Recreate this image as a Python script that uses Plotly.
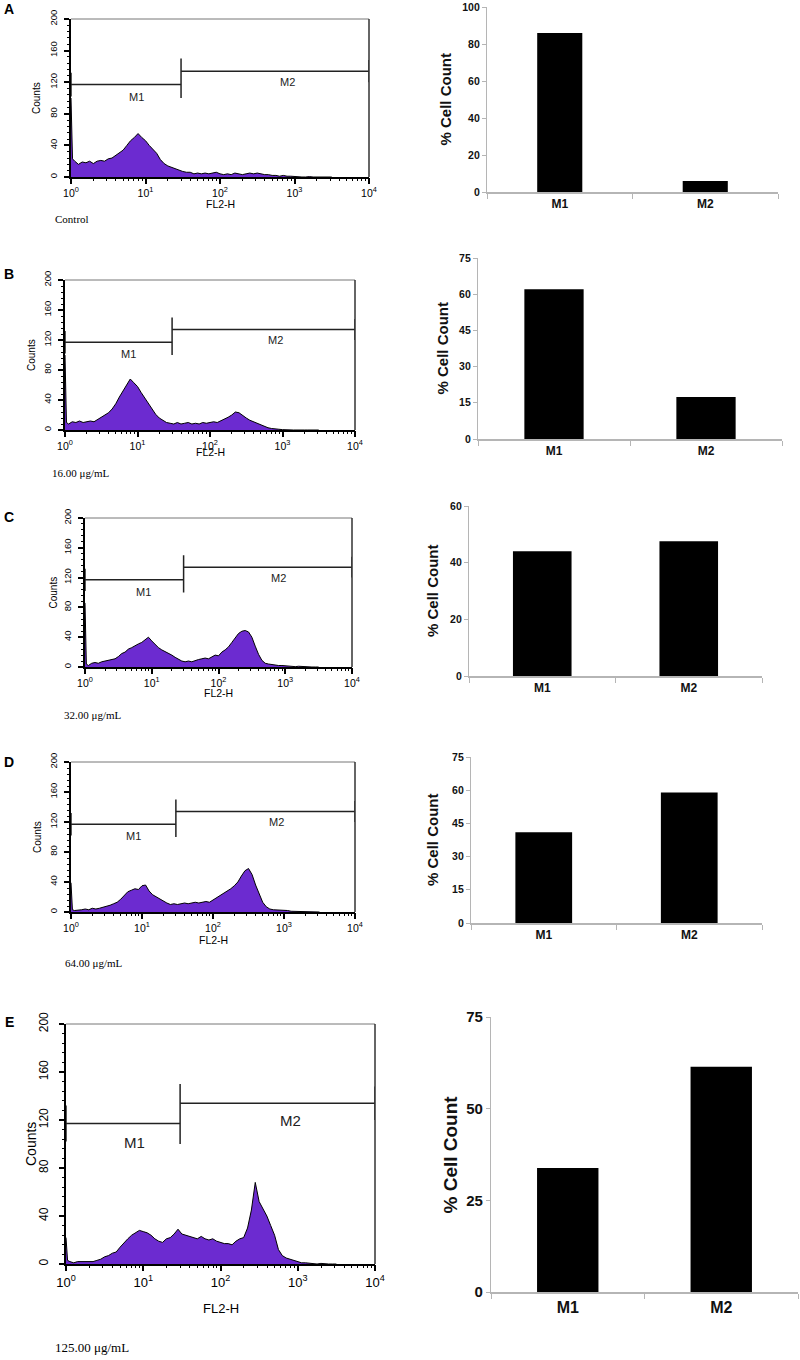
import plotly.graph_objects as go
import math

W, H = 800, 1360

# ---------------- data ----------------
# FL2-H channel positions (log10 of fluorescence)
FL2_LOG = [0.00, 0.02,
           0.05, 0.10, 0.15, 0.20, 0.25, 0.30, 0.35, 0.40, 0.45, 0.50,
           0.55, 0.60, 0.65, 0.70, 0.75, 0.80, 0.85, 0.90, 0.95, 1.00,
           1.05, 1.10, 1.15, 1.20, 1.25, 1.30, 1.35, 1.40, 1.45, 1.50,
           1.55, 1.60, 1.65, 1.70, 1.75, 1.80, 1.85, 1.90, 1.95, 2.00,
           2.05, 2.10, 2.15, 2.20, 2.25, 2.30, 2.35, 2.40, 2.45, 2.50,
           2.55, 2.60, 2.65, 2.70, 2.75, 2.80, 2.85, 2.90, 2.95, 3.00,
           3.05, 3.10, 3.15, 3.20, 3.25, 3.30, 3.35, 3.40, 3.45, 3.50]

counts_control = [100, 23,
                  20, 16, 19, 18, 20, 17, 20, 21, 20, 23,
                  24, 27, 30, 34, 40, 46, 50, 55, 50, 46,
                  40, 35, 30, 22, 17, 14, 12, 10, 9, 7,
                  6, 6, 4, 5, 4, 5, 4, 5, 6, 4,
                  3, 4, 3, 5, 4, 3, 4, 5, 4, 5,
                  4, 3, 3, 2, 2, 1, 2, 1, 1, 0.5,
                  0, 0, 0, 0.5, 0, 0, 0, 0, 0, 0]

counts_16 = [100, 10,
             8, 11, 10, 12, 10, 11, 12, 11, 14, 16,
             19, 23, 28, 35, 44, 52, 60, 68, 63, 58,
             50, 43, 36, 28, 21, 16, 13, 10, 9, 8,
             10, 8, 9, 10, 8, 9, 8, 10, 9, 10,
             11, 10, 12, 14, 17, 20, 24, 23, 19, 16,
             13, 11, 8, 6, 5, 3, 2, 2, 1, 0.5,
             0, 0, 0, 0, 0.5, 0, 0, 0, 0, 0]

counts_32 = [86, 4,
             2, 5, 6, 5, 7, 8, 9, 10, 11, 14,
             18, 20, 24, 26, 29, 31, 33, 36, 40, 35,
             30, 26, 23, 21, 19, 16, 13, 10, 8, 7,
             8, 7, 9, 10, 11, 12, 11, 14, 16, 15,
             20, 23, 27, 33, 39, 45, 48, 49, 47, 40,
             28, 17, 9, 5, 4, 3, 3, 2, 2, 1.5,
             1, 1, 0.5, 1, 0.5, 0, 0, 0, 0, 0]

counts_64 = [39, 3,
             2, 2, 3, 4, 3, 5, 4, 5, 6, 7,
             9, 11, 13, 17, 22, 27, 29, 31, 30, 35,
             36, 28, 23, 20, 17, 15, 12, 10, 11, 10,
             11, 12, 11, 12, 13, 12, 13, 14, 13, 16,
             19, 22, 24, 27, 31, 35, 40, 48, 55, 58,
             50, 36, 24, 13, 7, 4, 3, 3, 2, 2,
             2, 1, 1, 0.5, 0, 0, 0, 0, 0, 0]

counts_125 = [22, 3,
              2, 1, 2, 2, 1.5, 2, 2, 3, 4, 6,
              7, 9, 10, 14, 18, 21, 24, 26, 28, 27,
              26, 24, 21, 19, 18, 21, 22, 25, 29, 25,
              24, 23, 22, 21, 23, 21, 20, 21, 19, 18,
              17, 17, 16, 19, 21, 22, 30, 45, 68, 52,
              46, 40, 32, 24, 12, 7, 5, 4, 3, 2,
              1, 1, 0.5, 0, 0, 0.5, 0, 0, 0, 0]

HIST_COUNTS = [counts_control, counts_16, counts_32, counts_64, counts_125]

# marker gates (FL2-H split point and drawn levels in counts)
GATE_SPLIT = 30
GATE_MAX = 10000
M1_LEVEL = 117
M2_LEVEL = 134

# bar charts: % cell count in M1 / M2
CATEGORIES = ["M1", "M2"]
pct_control = [86, 6]
pct_16 = [62, 17.4]
pct_32 = [44, 47.6]
pct_64 = [41, 59]
pct_125 = [33.8, 61.4]
PCTS = [pct_control, pct_16, pct_32, pct_64, pct_125]

PANEL_LETTERS = ["A", "B", "C", "D", "E"]
DOSE_LABELS = ["Control", "16.00 μg/mL", "32.00 μg/mL", "64.00 μg/mL", "125.00 μg/mL"]
BAR_YMAX = [100, 75, 60, 75, 75]
BAR_DTICK = [20, 15, 20, 15, 25]
HIST_XTICKVALS = [1, 10, 100, 1000, 10000]
HIST_XTICKTEXT = ["10<sup>0</sup>", "10<sup>1</sup>", "10<sup>2</sup>", "10<sup>3</sup>", "10<sup>4</sup>"]

# ---------------- layout geometry (pixels in the screenshot) ----------------
HIST_BOX = [(71, 369, 19, 177), (65, 355, 280, 430), (85, 352, 518, 667),
            (71, 355, 762, 912), (66, 375, 1024, 1264)]
BAR_BOX = [(487, 778, 7, 192), (478, 782, 258, 439), (469, 762, 506, 676),
           (471, 762, 757, 923), (491, 798, 1017, 1292)]
BAR_WIDTH = [0.31, 0.39, 0.40, 0.39, 0.40]
LETTER_Y = [9, 274, 517, 762, 1022]
DOSE_POS = [(53, 219), (50, 473), (62, 715), (63, 963), (53, 1347)]
COUNTS_X = [37, 32, 53, 37, 31]
FL2_Y = [204, 452, 693, 940, 1308]
PCT_TITLE_X = [445, 442, 432, 432, 450]
BIG = [False, False, False, False, True]

PURPLE = "#6C2BD0"
GRAY = "#b5b5b5"


def clamp(v):
    return min(1.0, max(0.0, v))


def px(x, y):
    return clamp(x / W), clamp(1 - y / H)


def ax_ref(letter, n):
    return letter if n == 1 else f"{letter}{n}"


def ax_key(letter, n):
    return f"{letter}axis" if n == 1 else f"{letter}axis{n}"


fig = go.Figure()
annotations = []
shapes = []
layout_axes = {}

for i in range(5):
    big = BIG[i]
    nh = 3 * i + 1      # histogram axes
    nm = 3 * i + 2      # overlay axes for minor ticks / gates
    nb = 3 * i + 3      # bar axes
    hx, hy = ax_ref("x", nh), ax_ref("y", nh)
    mx, my = ax_ref("x", nm), ax_ref("y", nm)
    bx, by = ax_ref("x", nb), ax_ref("y", nb)

    # ---- histogram ----
    xs = [10 ** v for v in FL2_LOG]
    fig.add_trace(go.Scatter(x=xs, y=HIST_COUNTS[i], mode="lines",
                             line=dict(color="black", width=1),
                             fill="tozeroy", fillcolor=PURPLE,
                             xaxis=hx, yaxis=hy, showlegend=False, hoverinfo="skip"))
    # gates
    gx = [1, GATE_SPLIT, None, 1, 1, None, GATE_SPLIT, GATE_SPLIT, None,
          GATE_SPLIT, GATE_MAX, None, GATE_MAX, GATE_MAX]
    gy = [M1_LEVEL, M1_LEVEL, None, M1_LEVEL - 15, M1_LEVEL + 15, None, 100, 150, None,
          M2_LEVEL, M2_LEVEL, None, M2_LEVEL - 14, M2_LEVEL + 14]
    fig.add_trace(go.Scatter(x=gx, y=gy, mode="lines", line=dict(color="#222", width=1.5),
                             xaxis=mx, yaxis=my, showlegend=False, hoverinfo="skip",
                             cliponaxis=False))
    l, r, t, b = HIST_BOX[i]
    x0, y1 = px(l, t)
    x1, y0 = px(r, b)
    fs_tick = 13 if big else 10.5
    layout_axes[ax_key("x", nh)] = dict(
        domain=[x0, x1], anchor=hy, type="log", range=[0, 4], automargin=False,
        showline=True, linecolor="black", linewidth=2,
        ticks="outside", ticklen=5, tickwidth=1.5, tickcolor="black",
        tickmode="array", tickvals=HIST_XTICKVALS, ticktext=HIST_XTICKTEXT,
        tickfont=dict(family="Liberation Sans, Arial", size=fs_tick, color="black"),
        showgrid=False, zeroline=False)
    layout_axes[ax_key("y", nh)] = dict(
        domain=[y0, y1], anchor=hx, range=[0, 200], automargin=False,
        showline=True, linecolor="black", linewidth=2,
        ticks="outside", ticklen=5, tickwidth=1.5, tickcolor="black",
        tickmode="linear", tick0=0, dtick=40, tickangle=-90,
        ticklabelstandoff=(6 if big else 3),
        tickfont=dict(family="Liberation Sans, Arial", size=(12 if big else 9.5), color="black"),
        showgrid=False, zeroline=False)
    # overlay axes: minor ticks
    layout_axes[ax_key("x", nm)] = dict(
        overlaying=hx, anchor=my, side="bottom", type="log", range=[0, 4], automargin=False,
        showline=False, ticks="outside", ticklen=3, tickwidth=1, tickcolor="black",
        tickmode="linear", tick0=0, dtick="D1", showticklabels=False,
        showgrid=False, zeroline=False)
    layout_axes[ax_key("y", nm)] = dict(
        overlaying=hy, anchor=mx, side="left", range=[0, 200], automargin=False,
        showline=False, ticks="outside", ticklen=3, tickwidth=1, tickcolor="black",
        tickmode="linear", tick0=0, dtick=8, showticklabels=False,
        showgrid=False, zeroline=False)
    # frame top & right
    shapes.append(dict(type="line", xref=hx + " domain", yref=hy + " domain",
                       x0=0, x1=1, y0=1, y1=1, line=dict(color="#777", width=1)))
    shapes.append(dict(type="line", xref=hx + " domain", yref=hy + " domain",
                       x0=1, x1=1, y0=0, y1=1, line=dict(color="#333", width=1.5)))
    # gate labels
    fs_m = 15 if big else 11
    annotations.append(dict(x=math.log10(7.6), y=101, xref=hx, yref=hy, text="M1",
                            xanchor="center", yanchor="middle",
                            showarrow=False, font=dict(family="Liberation Sans, Arial",
                                                       size=fs_m, color="#222")))
    annotations.append(dict(x=2.9, y=120, xref=hx, yref=hy, text="M2",
                            xanchor="center", yanchor="middle",
                            showarrow=False, font=dict(family="Liberation Sans, Arial",
                                                       size=fs_m, color="#222")))
    # axis titles
    cx, cy = px((l + r) / 2, FL2_Y[i])
    annotations.append(dict(x=cx, y=cy, xref="paper", yref="paper", text="FL2-H",
                            xanchor="center", yanchor="middle",
                            showarrow=False, font=dict(family="Liberation Sans, Arial",
                                                       size=(13 if big else 10.5), color="black")))
    cx, cy = px(COUNTS_X[i], (t + b) / 2)
    annotations.append(dict(x=cx, y=cy, xref="paper", yref="paper", text="Counts",
                            xanchor="center", yanchor="middle",
                            textangle=-90, showarrow=False,
                            font=dict(family="Liberation Sans, Arial",
                                      size=(14 if big else 10), color="black")))
    dx, dy = px(*DOSE_POS[i])
    annotations.append(dict(x=dx, y=dy, xref="paper", yref="paper", text=DOSE_LABELS[i],
                            xanchor="left", yanchor="middle", showarrow=False,
                            font=dict(family="Liberation Serif, Times New Roman",
                                      size=(13 if big else 11), color="black")))
    lx, ly = px(9, LETTER_Y[i])
    annotations.append(dict(x=lx, y=ly, xref="paper", yref="paper",
                            xanchor="center", yanchor="middle",
                            text="<b>" + PANEL_LETTERS[i] + "</b>", showarrow=False,
                            font=dict(family="Liberation Sans, Arial", size=14, color="black")))

    # ---- bar chart ----
    fig.add_trace(go.Bar(x=CATEGORIES, y=PCTS[i], marker=dict(color="black",
                                                           line=dict(color="black", width=0)),
                         width=BAR_WIDTH[i], xaxis=bx, yaxis=by, showlegend=False,
                         hoverinfo="skip"))
    l, r, t, b = BAR_BOX[i]
    x0, y1 = px(l, t)
    x1, y0 = px(r, b)
    layout_axes[ax_key("x", nb)] = dict(
        domain=[x0, x1], anchor=by, type="category", range=[-0.5, 1.5], automargin=False,
        showline=True, linecolor=GRAY, linewidth=1.5,
        ticks="outside", tickson="boundaries", ticklen=5, tickcolor=GRAY,
        tickfont=dict(family="Liberation Sans, Arial", size=(16 if big else 12),
                      color="#111", weight="bold"),
        showgrid=False, zeroline=False)
    layout_axes[ax_key("y", nb)] = dict(
        domain=[y0, y1], anchor=bx, range=[0, BAR_YMAX[i]], dtick=BAR_DTICK[i], automargin=False,
        showline=True, linecolor=GRAY, linewidth=1.2,
        ticks="outside", ticklen=4, tickcolor=GRAY,
        tickfont=dict(family="Liberation Sans, Arial", size=(15 if big else 10.5),
                      color="#111", weight="bold"),
        showgrid=False, zeroline=False)
    cx, cy = px(PCT_TITLE_X[i], (t + b) / 2)
    annotations.append(dict(x=cx, y=cy, xref="paper", yref="paper", text="<b>% Cell Count</b>",
                            xanchor="center", yanchor="middle",
                            textangle=-90, showarrow=False,
                            font=dict(family="Liberation Sans, Arial",
                                      size=(19 if big else 15), color="#111")))

fig.update_layout(
    width=W, height=H, margin=dict(l=0, r=0, t=0, b=0, autoexpand=False),
    paper_bgcolor="white", plot_bgcolor="white",
    annotations=annotations, shapes=shapes, showlegend=False,
    **layout_axes)

fig.write_html("out.html", config={"displayModeBar": False},
               post_script="document.body.style.margin='0px';")
